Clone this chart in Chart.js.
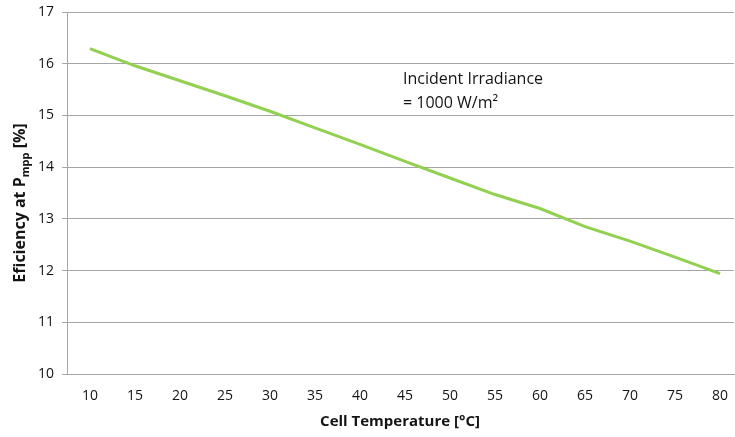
<!DOCTYPE html>
<html>
<head>
<meta charset="utf-8">
<script src="https://cdn.jsdelivr.net/npm/chart.js@4"></script>
<style>
  html, body { margin: 0; padding: 0; background: #fff; overflow: hidden; }
  #wrap { width: 735px; height: 437px; position: relative; }
</style>
</head>
<body>
<div id="wrap"><canvas id="effChart" width="735" height="437"></canvas></div>
<script>
// cell temperature (°C) and module efficiency at Pmpp (%)
const temps = [10, 15, 20, 25, 30, 35, 40, 45, 50, 55, 60, 65, 70, 75, 80];
const efficiency = [16.29, 15.96, 15.67, 15.38, 15.08, 14.76, 14.44, 14.11, 13.79, 13.47, 13.2, 12.85, 12.57, 12.26, 11.94];
const yTicks = [10, 11, 12, 13, 14, 15, 16, 17];

const FONT = '"Open Sans", "Liberation Sans", sans-serif';
const INK = '#141414';
const GRID = '#a6a6a6';

// axis titles + the irradiance note (y title needs a subscript, so draw by hand)
const labelsPlugin = {
  id: 'labels',
  afterDraw(chart) {
    const ctx = chart.ctx;
    ctx.save();
    ctx.fillStyle = INK;

    // x title
    ctx.font = 'bold 15px ' + FONT;
    ctx.textAlign = 'center';
    ctx.textBaseline = 'middle';
    ctx.fillText('Cell Temperature [°C]', 400, 422);

    // y title, rotated
    const main = 'Eficiency at P';
    const sub = 'mpp';
    const tail = ' [%]';
    ctx.font = 'bold 16px ' + FONT;
    const wMain = ctx.measureText(main).width;
    const wTail = ctx.measureText(tail).width;
    ctx.font = 'bold 11px ' + FONT;
    const wSub = ctx.measureText(sub).width;
    const total = wMain + wSub + wTail;
    ctx.translate(19, 203);
    ctx.rotate(-Math.PI / 2);
    ctx.textAlign = 'left';
    ctx.textBaseline = 'alphabetic';
    let x = -total / 2;
    ctx.font = 'bold 16px ' + FONT;
    ctx.fillText(main, x, 6);
    x += wMain;
    ctx.font = 'bold 11px ' + FONT;
    ctx.fillText(sub, x, 10);
    x += wSub;
    ctx.font = 'bold 16px ' + FONT;
    ctx.fillText(tail, x, 6);
    ctx.restore();

    // note inside the plot
    ctx.save();
    ctx.fillStyle = INK;
    ctx.font = '16px ' + FONT;
    ctx.textAlign = 'left';
    ctx.textBaseline = 'middle';
    ctx.fillText('Incident Irradiance', 403, 79);
    ctx.fillText('= 1000 W/m²', 403, 103);
    ctx.restore();
  }
};

new Chart(document.getElementById('effChart'), {
  type: 'line',
  data: {
    datasets: [{
      data: temps.map((t, i) => ({ x: t, y: efficiency[i] })),
      borderColor: '#92d050',
      borderWidth: 3,
      pointRadius: 0,
      tension: 0,
      fill: false
    }]
  },
  options: {
    responsive: false,
    animation: false,
    layout: { padding: { top: 12, right: 1, left: 0, bottom: 0 } },
    plugins: { legend: { display: false }, tooltip: { enabled: false } },
    scales: {
      x: {
        type: 'linear',
        min: 7.45,
        max: 81.55,
        afterBuildTicks: axis => { axis.ticks = temps.map(v => ({ value: v })); },
        afterFit: axis => { axis.height = 63; axis.paddingLeft = 0; axis.paddingRight = 0; },
        grid: { display: false, drawTicks: false },
        border: { display: true, color: GRID, width: 1 },
        ticks: { color: INK, font: { family: FONT, size: 14 }, padding: 14, maxRotation: 0, autoSkip: false }
      },
      y: {
        min: 10,
        max: 17,
        afterBuildTicks: axis => { axis.ticks = yTicks.map(v => ({ value: v })); },
        afterFit: axis => { axis.width = 67; axis.paddingTop = 0; axis.paddingBottom = 0; },
        grid: { color: GRID, lineWidth: 1, tickLength: 5 },
        border: { display: true, color: GRID, width: 1 },
        ticks: { color: INK, font: { family: FONT, size: 14 }, padding: 8 }
      }
    }
  },
  plugins: [labelsPlugin]
});
</script>
</body>
</html>
